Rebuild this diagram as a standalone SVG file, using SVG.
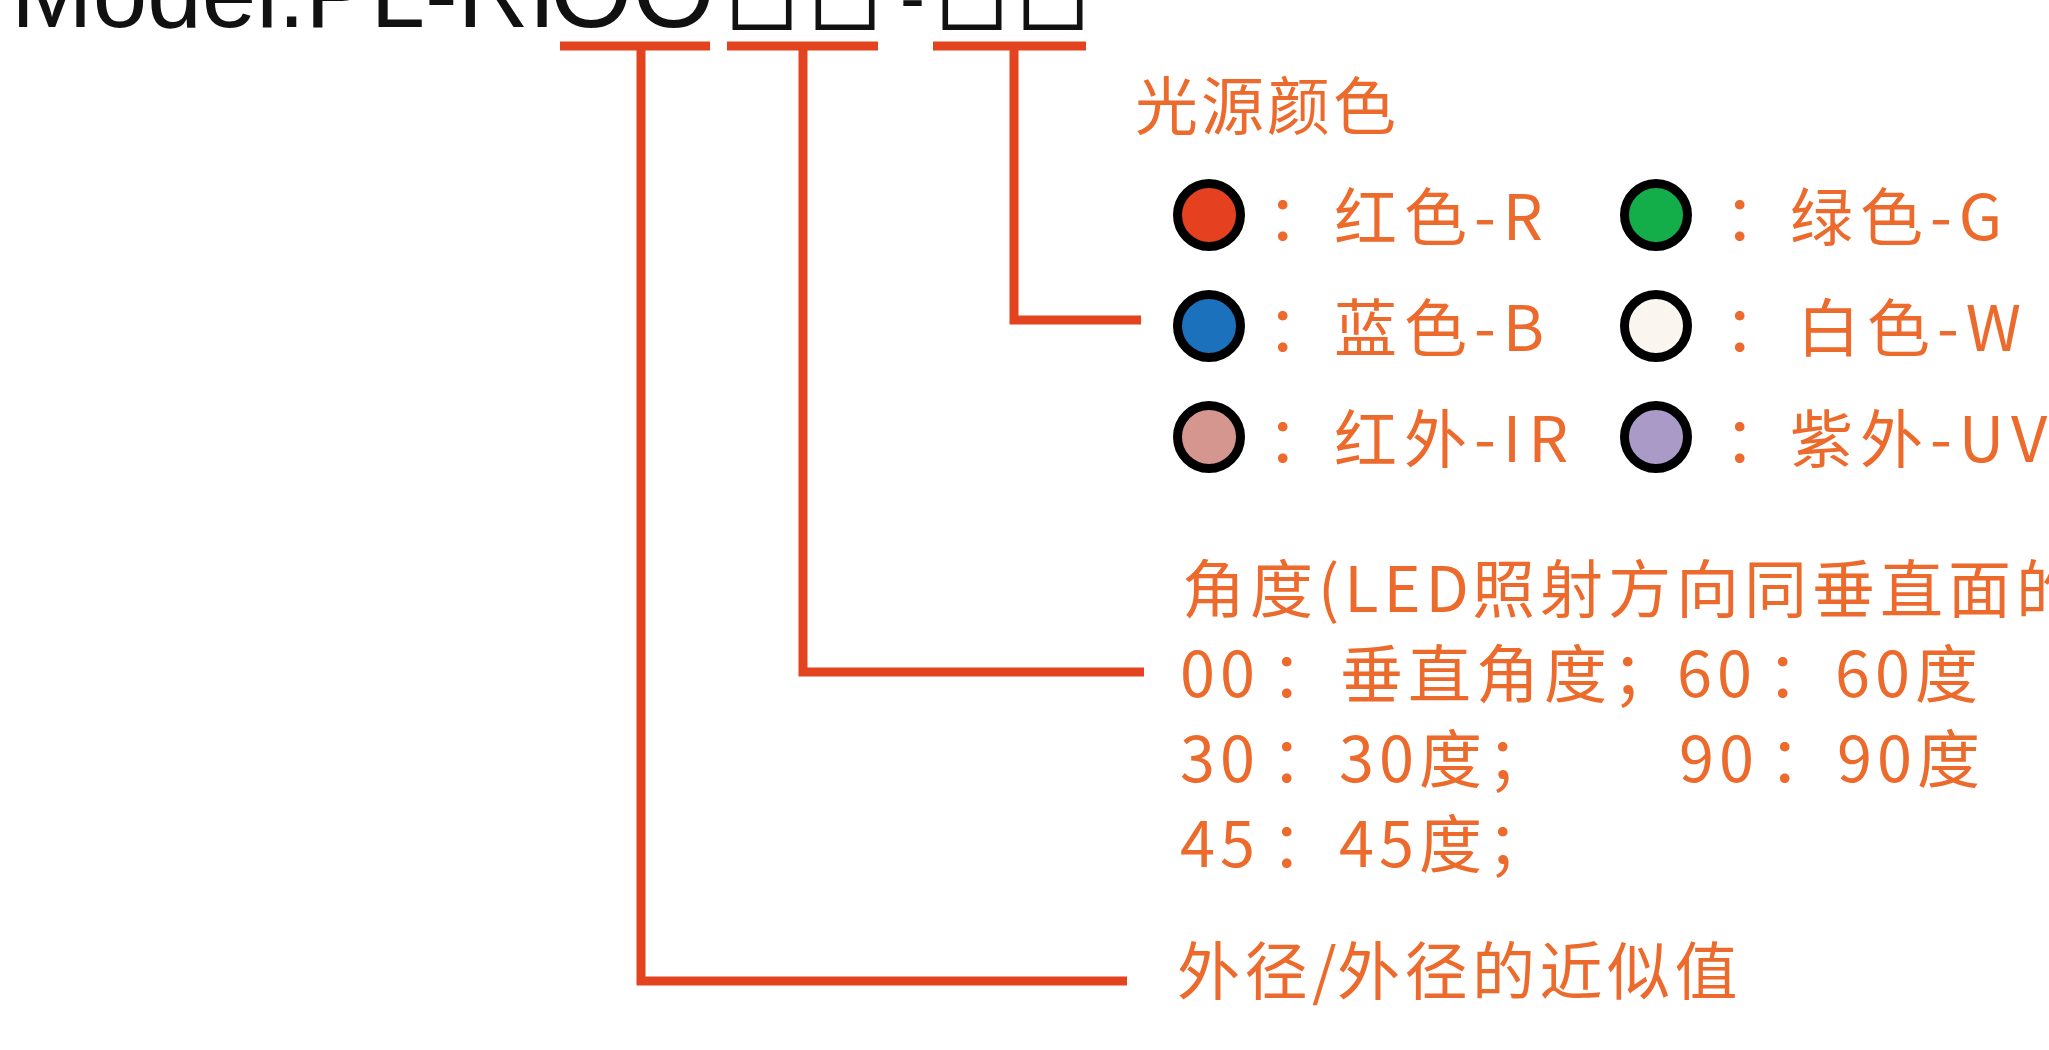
<svg xmlns="http://www.w3.org/2000/svg" width="2049" height="1050" viewBox="0 0 2049 1050">
<style>
.bg{fill:#ffffff}
.model{font-family:"Liberation Sans",Arial,sans-serif;fill:#111111}
.box{font-family:"Noto Sans CJK SC","Noto Sans",sans-serif;font-size:70px;stroke:#111111;stroke-width:3}
.hy{font-family:"Liberation Sans",Arial,sans-serif;font-size:75px}
.t{font-family:"Noto Sans CJK SC","Noto Sans",sans-serif;font-size:63px;font-weight:400;fill:#EB6A2C}
.row{letter-spacing:7px}
.ang{letter-spacing:5px}
.ln{fill:none;stroke:#E4431F;stroke-width:9;stroke-linecap:butt;stroke-linejoin:miter}
.dot{stroke:#000000;stroke-width:9}
</style>
<rect class="bg" x="0" y="0" width="2049" height="1050"/>

<g id="model">
<text class="model" y="27"><tspan x="11" font-size="98">Model.PL-RI</tspan><tspan x="550" font-size="106">OO</tspan><tspan class="box" x="727 810" y="27">□□</tspan><tspan class="hy" x="900" y="23">-</tspan><tspan class="box" x="937 1018" y="27">□□</tspan></text>
</g>

<g id="connectors">
<path class="ln" d="M560 46H710"/>
<path class="ln" d="M727 46H878"/>
<path class="ln" d="M933 46H1086"/>
<path class="ln" d="M641 46V981H1127"/>
<path class="ln" d="M803 46V672H1144"/>
<path class="ln" d="M1014 46V320H1141"/>
</g>

<g id="color-title">
<text class="t" x="1135" y="129" font-size="65" letter-spacing="3">光源颜色</text>
</g>

<g id="color-red">
<circle class="dot" cx="1209" cy="215" r="31.5" fill="#E5401F"/>
<text class="t row" y="240"><tspan x="1267">：</tspan><tspan x="1334">红色-R</tspan></text>
</g>
<g id="color-green">
<circle class="dot" cx="1656" cy="215" r="31.5" fill="#13AD4A"/>
<text class="t row" y="240"><tspan x="1724">：</tspan><tspan x="1790">绿色-G</tspan></text>
</g>
<g id="color-blue">
<circle class="dot" cx="1209" cy="326" r="31.5" fill="#1B71BC"/>
<text class="t row" y="351"><tspan x="1267">：</tspan><tspan x="1334">蓝色-B</tspan></text>
</g>
<g id="color-white">
<circle class="dot" cx="1656" cy="326" r="31.5" fill="#FAF5EF"/>
<text class="t row" y="351"><tspan x="1724">：</tspan><tspan x="1797">白色-W</tspan></text>
</g>
<g id="color-ir">
<circle class="dot" cx="1209" cy="437" r="31.5" fill="#D69690"/>
<text class="t row" y="462"><tspan x="1267">：</tspan><tspan x="1334">红外-IR</tspan></text>
</g>
<g id="color-uv">
<circle class="dot" cx="1656" cy="437" r="31.5" fill="#A99AC8"/>
<text class="t row" y="462"><tspan x="1724">：</tspan><tspan x="1790">紫外-UV</tspan></text>
</g>

<g id="angle">
<text class="t ang" y="612"><tspan x="1182">角度(LED</tspan><tspan x="1472">照射方向同垂直面的</tspan></text>
<text class="t ang" y="697"><tspan x="1180">00</tspan><tspan x="1271">：</tspan><tspan x="1340">垂直角度；</tspan><tspan x="1677">60</tspan><tspan x="1767">：</tspan><tspan x="1835">60度</tspan></text>
<text class="t ang" y="782"><tspan x="1180">30</tspan><tspan x="1271">：</tspan><tspan x="1339">30度；</tspan><tspan x="1679">90</tspan><tspan x="1769">：</tspan><tspan x="1837">90度</tspan></text>
<text class="t ang" y="867"><tspan x="1180">45</tspan><tspan x="1271">：</tspan><tspan x="1339">45度；</tspan></text>
</g>

<g id="diameter">
<text class="t" y="994" letter-spacing="4.5"><tspan x="1177">外径/</tspan><tspan x="1337">外径的近似值</tspan></text>
</g>
</svg>
